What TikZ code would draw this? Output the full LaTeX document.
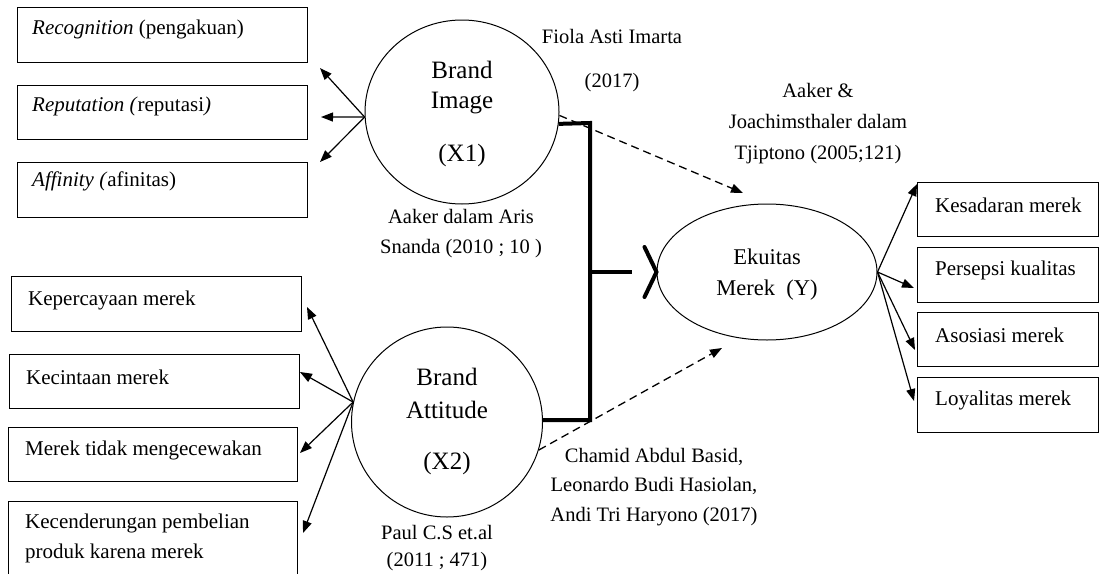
\documentclass[tikz,border=0pt]{standalone}
\usepackage{fontspec}
\setmainfont{Liberation Serif}
\usetikzlibrary{arrows.meta,shapes.geometric}
\begin{document}
\begin{tikzpicture}[x=1pt,y=-1pt,
  box/.style={draw, line width=1.3pt, rectangle, minimum width=#1, anchor=north west, inner sep=0pt},
  txt/.style={font=\fontsize{20.5}{30}\selectfont, inner sep=0pt},
  btxt/.style={font=\fontsize{21}{30}\selectfont, inner sep=0pt, anchor=west},
  ctxt/.style={txt, align=center},
  big/.style={font=\fontsize{25}{30}\selectfont, inner sep=0pt},
  mid/.style={font=\fontsize{22.5}{30}\selectfont, inner sep=0pt},
  circ/.style={draw, ellipse, line width=1pt, inner sep=0pt},
  arr/.style={-{Triangle[length=12pt,width=9pt]}, line width=1.2pt},
  dsh/.style={-{Triangle[length=12pt,width=9pt]}, line width=1.3pt, dash pattern=on 8pt off 5pt},
  thk/.style={line width=4pt}]
\useasboundingbox (0,0) rectangle (1100,573);
\clip (0,0) rectangle (1100,573);
\fill[white] (0,0) rectangle (1100,573);

% ellipses
\node[circ, minimum width=194, minimum height=184] (bi) at (462,112) {};
\node[circ, minimum width=191, minimum height=190] (ba) at (447,422) {};
\node[circ, minimum width=220, minimum height=136] (ek) at (767,272) {};

\node[big] (bi1) at (462,70) {Brand};
\node[big] (bi2) at (462,103) {Image};
\node[big] (bi3) at (462,155) {(X1)};
\node[big] (ba1) at (447,377) {Brand};
\node[big] (ba2) at (447,410) {Attitude};
\node[big] (ba3) at (447,463) {(X2)};
\node[mid] (ek1) at (767,257) {Ekuitas};
\node[mid] (ek2) at (767,290) {Merek\ \ (Y)};

% left top boxes
\node[box=290, minimum height=55] (r1) at (17,7) {};
\node[box=290, minimum height=54] (r2) at (17,85) {};
\node[box=290, minimum height=55] (r3) at (17,162) {};
\node[btxt] (t1) at (32,29) {\textit{Recognition} (pengakuan)};
\node[btxt] (t2) at (32,106) {\textit{Reputation (}reputasi\textit{)}};
\node[btxt] (t3) at (32,181) {\textit{Affinity (}afinitas)};

% left bottom boxes
\node[box=290, minimum height=55] (s1) at (11,276) {};
\node[box=290, minimum height=54] (s2) at (9,354) {};
\node[box=289, minimum height=54] (s3) at (8,427) {};
\node[box=289, minimum height=80] (s4) at (8,501) {};
\node[btxt] (u1) at (28,300) {Kepercayaan merek};
\node[btxt] (u2) at (26,377) {Kecintaan merek};
\node[btxt] (u3) at (25,450) {Merek tidak mengecewakan};
\node[btxt] (u4) at (25,523) {Kecenderungan pembelian};
\node[btxt] (u5) at (25,553) {produk karena merek};

% right boxes
\node[box=181, minimum height=54] (v1) at (917,182) {};
\node[box=181, minimum height=55] (v2) at (917,247) {};
\node[box=181, minimum height=54] (v3) at (917,312) {};
\node[box=181, minimum height=55] (v4) at (917,377) {};
\node[btxt] (w1) at (935,205) {Kesadaran merek};
\node[btxt] (w2) at (935,270) {Persepsi kualitas};
\node[btxt] (w3) at (935,335) {Asosiasi merek};
\node[btxt] (w4) at (935,400) {Loyalitas merek};

% labels
\node[txt] (l1) at (612,36) {Fiola Asti Imarta};
\node[txt] (l2) at (612,83) {(2017)};
\node[ctxt] (l3) at (461,234) {Aaker dalam Aris\\Snanda (2010 ; 10 )};
\node[ctxt, font=\fontsize{20.5}{31}\selectfont] (l4) at (818,124) {Aaker \&\\Joachimsthaler dalam\\Tjiptono (2005;121)};
\node[ctxt, font=\fontsize{20.5}{29.5}\selectfont] (l5) at (654,487) {Chamid Abdul Basid,\\Leonardo Budi Hasiolan,\\Andi Tri Haryono (2017)};
\node[ctxt, font=\fontsize{20.5}{27}\selectfont] (l6) at (437,548) {Paul C.S et.al\\(2011 ; 471)};

% arrow tip coordinates
\coordinate (a1) at (320,68);
\coordinate (a2) at (321,117);
\coordinate (a3) at (320,162);
\coordinate (b1) at (307,307);
\coordinate (b2) at (300,372);
\coordinate (b3) at (300,453);
\coordinate (b4) at (303,533);
\coordinate (c1) at (917,184);
\coordinate (c2) at (914,288);
\coordinate (c3) at (915,350);
\coordinate (c4) at (914,401);
\coordinate (d1) at (743,193);
\coordinate (d2) at (722,348);
\coordinate (j1) at (590,123);
\coordinate (j2) at (590,420);
\coordinate (jm) at (590,272);
\coordinate (je) at (632,272);

% arrows
\foreach \t in {a1,a2,a3} \draw[arr] (bi.183) -- (\t);
\foreach \t in {b1,b2,b3,b4} \draw[arr] (ba.168) -- (\t);
\foreach \t in {c1,c2,c3,c4} \draw[arr] (ek.east) -- (\t);
\draw[dsh] (bi.-2) -- (d1);
\draw[dsh] (ba.-17) -- (d2);

% thick bracket
\draw[thk] (bi.-7) -- (j1) -- (j2) -- (ba.east |- j2);
\draw[thk] (jm) -- (je);
\draw[thk, line cap=round] (ek.west) ++(-12,-25) -- (ek.west) -- ++(-12,25);
\end{tikzpicture}
\end{document}
